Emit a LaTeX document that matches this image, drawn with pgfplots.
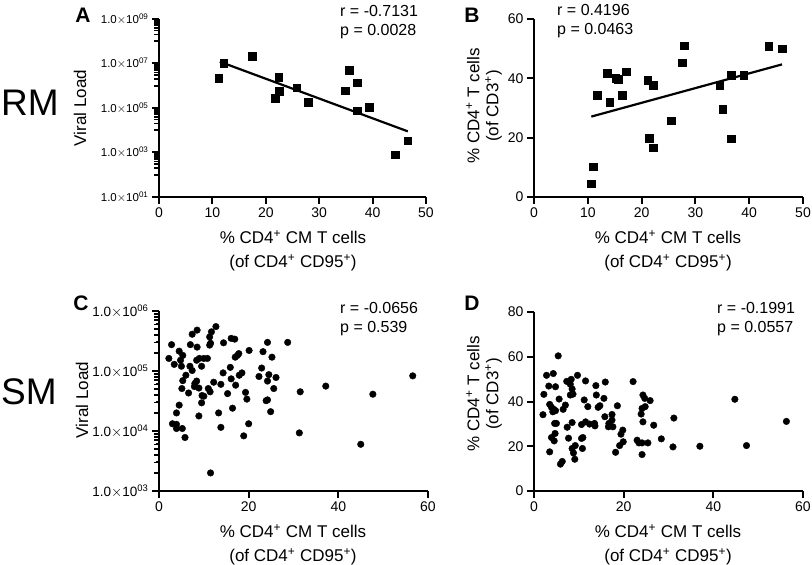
\documentclass[border=0pt]{standalone}
\usepackage{fontspec}
\setmainfont{Liberation Sans}
\usepackage{pgfplots}
\pgfplotsset{compat=1.18}

\pgfplotsset{
  panel/.style={scale only axis, anchor=south west, axis lines=left,
    axis line style={-, line width=2.2pt}, tick align=outside,
    tick style={black, line width=2pt}, major tick length=7pt,
    tick label style={font=\fontsize{14}{16}\selectfont},
    /pgf/number format/assume math mode=true, clip=false},
  sq/.style={only marks, mark=square*, mark size=3.8pt, black},
  dot/.style={only marks, mark=*, mark size=3.3pt, black},
  fit/.style={black, line width=2.2pt, no marks},
}
\newcommand{\sci}[1]{1.0$\times$10\textsuperscript{#1}}
% short ticks on a log y axis, drawn at x = 0 of the current axis
\newcommand{\logminor}[1]{\pgfplotsinvokeforeach{#1}{%
  \draw[black, line width=1.6pt] (axis cs:0,##1) -- ++(-5.5pt,0pt);}}

\begin{document}
\begin{tikzpicture}
\path[use as bounding box] (0pt,0pt) rectangle (812pt,565pt);

% A: RM viral load
\begin{axis}[panel, at={(159pt,368pt)}, width=267pt, height=178pt,
  ymode=log, xmin=0, xmax=50, ymin=1e1, ymax=1e9, xtick={0,10,...,50},
  ytick={1e1,1e3,1e5,1e7,1e9},
  yticklabels={\sci{01},\sci{03},\sci{05},\sci{07},\sci{09}},
  yticklabel style={font=\fontsize{11.5}{12}\selectfont}]
\logminor{1e2,2e2,3e2,4e2,5e2,6e2,7e2,8e2,9e2,1e4,2e4,3e4,4e4,5e4,6e4,7e4,8e4,9e4,
  1e6,2e6,3e6,4e6,5e6,6e6,7e6,8e6,9e6,1e8,2e8,3e8,4e8,5e8,6e8,7e8,8e8,9e8}
\addplot[sq] coordinates {(11.2,2.2e6) (12.1,1.0e7) (17.5,2.1e7) (22.4,2.4e6)
  (22.5,5.7e5) (21.75,2.7e5) (25.75,8.3e5) (27.9,1.8e5) (35.6,5.0e6) (34.9,6.1e5)
  (37.1,1.35e6) (37.1,7.7e4) (39.4,1.1e5) (44.25,8.0e2) (46.6,3.4e3)};
\addplot[fit] coordinates {(11.4,1.2e7) (46.6,8.9e3)};
\end{axis}

% B: RM CD4
\begin{axis}[panel, at={(534pt,368pt)}, width=269pt, height=178pt,
  xmin=0, xmax=50, ymin=0, ymax=60, xtick={0,10,...,50}, ytick={0,20,40,60}]
\addplot[sq] coordinates {(10.6,4.5) (11.0,10.2) (11.8,34.4) (13.6,41.8) (14.1,32.0)
  (15.2,40.0) (15.7,39.7) (16.4,34.3) (17.1,42.2) (21.1,39.3) (22.2,37.6) (21.4,19.8)
  (22.1,16.6) (25.5,25.7) (27.5,45.3) (27.9,51.0) (34.5,37.7) (35.1,29.6) (36.6,41.1)
  (36.6,19.6) (39.0,41.0) (43.6,50.9) (46.1,50.0)};
\addplot[fit] coordinates {(10.65,27.1) (46.1,44.7)};
\end{axis}

% C: SM viral load
\begin{axis}[panel, at={(159pt,74pt)}, width=269pt, height=180pt,
  ymode=log, xmin=0, xmax=60, ymin=1e3, ymax=1e6, xtick={0,20,40,60},
  ytick={1e3,1e4,1e5,1e6},
  yticklabels={\sci{03},\sci{04},\sci{05},\sci{06}},
  yticklabel style={font=\fontsize{13.5}{14}\selectfont}]
\logminor{2e3,3e3,4e3,5e3,6e3,7e3,8e3,9e3,2e4,3e4,4e4,5e4,6e4,7e4,8e4,9e4,
  2e5,3e5,4e5,5e5,6e5,7e5,8e5,9e5}
\addplot[dot] coordinates {(2.8,2.75e5) (2.2,1.62e5) (3.4,1.29e5) (4.5,2.14e5)
  (5.3,1.82e5) (4.8,1.51e5) (5.0,1.20e5) (5.3,6.9e4) (5.1,5.1e4) (6.0,8.5e4)
  (4.5,2.7e4) (3.9,2.0e4) (3.0,1.32e4) (3.9,1.29e4) (3.9,1.10e4) (5.2,1.10e4)
  (5.8,7.8e3) (6.6,4.3e4) (7.4,4.1e5) (7.0,2.75e5) (6.9,1.20e5) (7.4,1.02e5)
  (8.5,4.8e5) (8.5,2.5e5) (8.4,1.51e5) (9.0,1.62e5) (9.5,1.20e5) (10.0,1.62e5)
  (8.0,6.2e4) (8.4,6.8e4) (8.9,5.2e4) (7.9,5.5e4) (9.6,3.9e4) (9.5,2.95e4)
  (8.9,1.78e4) (10.0,3.8e4) (10.8,1.62e5) (11.3,2.7e5) (11.3,3.7e5) (11.7,4.5e5)
  (12.7,5.5e5) (11.5,2.9e5) (11.0,5.1e4) (11.4,4.5e4) (12.2,6.5e4) (13.8,6.0e4)
  (14.4,2.95e5) (14.3,9.3e4) (15.3,4.2e4) (13.3,2.0e4) (13.8,1.15e4) (15.9,1.15e5)
  (16.1,7.4e4) (16.1,3.5e5) (16.9,3.4e5) (17.0,1.7e5) (17.5,1.82e5) (17.8,1.95e5)
  (17.1,5.8e4) (16.4,2.4e4) (17.9,8.5e4) (18.5,9.3e4) (19.3,4.4e4) (19.6,3.4e4)
  (20.0,1.32e4) (18.9,8.3e3) (20.1,2.2e5) (11.5,2.0e3) (23.2,2.1e5) (22.9,1.12e5)
  (22.3,8.1e4) (24.2,3.0e5) (25.2,1.7e5) (24.5,8.7e4) (24.2,6.8e4) (26.1,7.8e4)
  (25.6,5.1e4) (24.2,3.3e4) (23.9,3.2e4) (24.9,2.1e4) (28.7,3.0e5) (31.5,4.5e4)
  (37.2,5.6e4) (47.7,4.1e4) (56.6,8.3e4) (31.3,9.3e3) (45.0,6.0e3)};
\end{axis}

% D: SM CD4
\begin{axis}[panel, at={(534pt,74pt)}, width=269pt, height=179pt,
  xmin=0, xmax=60, ymin=0, ymax=80, xtick={0,20,40,60}, ytick={0,20,...,80}]
\addplot[dot] coordinates {(5.4,60.4) (2.8,51.7) (4.3,52.5) (2.2,43.2) (3.3,46.9)
  (4.8,46.6) (2.0,34.1) (3.5,38.7) (3.9,37.4) (4.4,36.5) (4.8,35.9) (4.2,35.4)
  (5.6,41.1) (6.5,36.5) (7.0,38.4) (4.6,30.2) (5.0,30.2) (4.7,25.7) (3.9,23.9)
  (4.5,22.4) (3.5,17.5) (5.9,12.0) (6.3,13.2) (7.3,49.0) (8.3,49.9) (8.1,47.7)
  (8.5,45.6) (8.1,42.9) (8.7,43.3) (7.4,28.5) (7.7,23.6) (8.5,30.6) (8.5,19.0)
  (8.8,17.0) (9.1,14.2) (9.2,20.3) (9.7,51.7) (10.6,23.5) (10.9,23.9) (10.8,19.0)
  (11.2,40.7) (11.5,49.2) (12.0,37.7) (10.6,29.7) (11.5,30.9) (12.4,29.9) (13.6,29.1)
  (13.5,30.2) (13.8,47.1) (13.9,42.9) (14.3,37.4) (14.7,38.1) (15.9,48.7) (15.6,41.4)
  (15.8,33.2) (16.7,30.2) (16.6,28.7) (17.4,31.7) (17.6,28.7) (17.4,34.2) (18.6,38.1)
  (18.2,17.3) (19.1,20.3) (19.4,25.4) (19.8,27.2) (19.9,22.0) (22.1,48.9) (23.0,22.7)
  (23.4,21.5) (24.1,16.3) (24.1,21.5) (23.9,34.4) (24.1,36.9) (24.3,42.9) (24.3,30.9)
  (24.7,41.4) (24.8,37.7) (25.4,21.5) (25.9,40.4) (26.7,29.4) (28.4,23.3) (31.2,32.6)
  (31.0,19.7) (37.0,20.0) (44.8,41.0) (47.4,20.3) (56.3,31.1)};
\end{axis}

% row and panel labels
\node[font=\fontsize{37}{37}\selectfont] at (30pt,462pt) {RM};
\node[font=\fontsize{37}{37}\selectfont] at (29pt,173pt) {SM};
\node[font=\fontsize{21}{21}\selectfont\bfseries] at (83pt,550pt) {A};
\node[font=\fontsize{21}{21}\selectfont\bfseries] at (472pt,550pt) {B};
\node[font=\fontsize{21}{21}\selectfont\bfseries] at (81pt,262pt) {C};
\node[font=\fontsize{21}{21}\selectfont\bfseries] at (472pt,262pt) {D};

% axis titles
\node[rotate=90, font=\fontsize{17}{20}\selectfont] at (80pt,457pt) {Viral Load};
\node[rotate=90, font=\fontsize{17}{20}\selectfont] at (82pt,165pt) {Viral Load};
\node[rotate=90, align=center, font=\fontsize{17}{19}\selectfont] at (484pt,459pt)
  {\% CD4\textsuperscript{+} T cells\\(of CD3\textsuperscript{+})};
\node[rotate=90, align=center, font=\fontsize{17}{19}\selectfont] at (484pt,171pt)
  {\% CD4\textsuperscript{+} T cells\\(of CD3\textsuperscript{+})};
\foreach \p in {(293pt,314pt),(668pt,314pt),(293pt,20pt),(668pt,20pt)}
  \node[align=center, font=\fontsize{17}{24}\selectfont] at \p
    {\% CD4\textsuperscript{+} CM T cells\\(of CD4\textsuperscript{+} CD95\textsuperscript{+})};

% statistics
\node[anchor=west, align=left, inner sep=0pt, font=\fontsize{16}{19}\selectfont] at (340pt,543pt) {r = -0.7131\\p = 0.0028};
\node[anchor=west, align=left, inner sep=0pt, font=\fontsize{16}{19}\selectfont] at (557pt,544pt) {r = 0.4196\\p = 0.0463};
\node[anchor=west, align=left, inner sep=0pt, font=\fontsize{16}{19}\selectfont] at (340pt,246pt) {r = -0.0656\\p = 0.539};
\node[anchor=west, align=left, inner sep=0pt, font=\fontsize{16}{19}\selectfont] at (717pt,246pt) {r = -0.1991\\p = 0.0557};
\end{tikzpicture}
\end{document}
